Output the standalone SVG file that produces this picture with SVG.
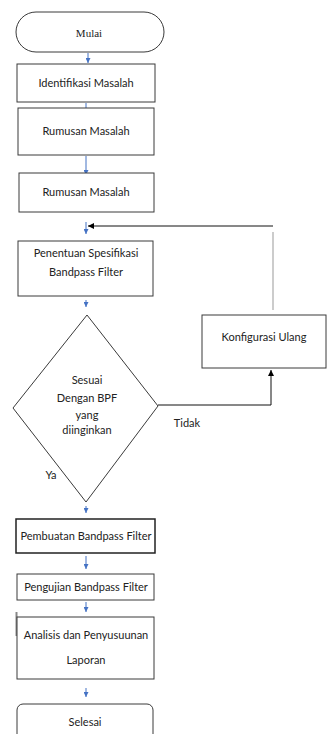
<svg xmlns="http://www.w3.org/2000/svg" width="327" height="734" viewBox="0 0 327 734">
<defs>
<marker id="ab" viewBox="0 0 6 6" refX="6" refY="3" markerWidth="5" markerHeight="5" orient="auto" markerUnits="userSpaceOnUse"><path d="M0,0 L6,3 L0,6 z" fill="#4472C4"/></marker>
<marker id="ak" viewBox="0 0 6 6" refX="6" refY="3" markerWidth="6" markerHeight="6" orient="auto" markerUnits="userSpaceOnUse"><path d="M0,0 L6,3 L0,6 z" fill="#000"/></marker>
<style>
.n{fill:#fff;stroke:#3a3a3a;stroke-width:1}
.t{font-family:Lato,"Open Sans","Liberation Sans",sans-serif;font-size:11px;fill:#222;text-anchor:middle}
.s{font-family:"Liberation Serif",serif;font-size:11px;fill:#222;text-anchor:middle}
.b{stroke:#4472C4;stroke-width:1;fill:none;marker-end:url(#ab)}
.k{stroke:#111;stroke-width:1;fill:none}
</style>
</defs>
<rect width="327" height="734" fill="#fff"/>
<g id="connectors">
<line class="b" x1="88" y1="53" x2="88" y2="63"/>
<line class="b" x1="86" y1="103" x2="86" y2="118"/>
<line class="b" x1="86" y1="156" x2="86" y2="175"/>
<line class="b" x1="86" y1="222" x2="86" y2="234"/>
<line class="b" x1="86" y1="300" x2="86" y2="307"/>
<line class="b" x1="86" y1="506" x2="86" y2="513"/>
<line class="b" x1="86" y1="556" x2="86" y2="569"/>
<line class="b" x1="86" y1="602" x2="86" y2="612"/>
<line class="b" x1="86" y1="688" x2="86" y2="697"/>
<line x1="273" y1="226" x2="88" y2="226" stroke="#111" stroke-width="1" marker-end="url(#ak)"/>
<line x1="273" y1="232" x2="273" y2="310" stroke="#999" stroke-width="1"/>
<polyline points="158,405 271,405 271,370" stroke="#111" stroke-width="1" fill="none" marker-end="url(#ak)"/>
<line x1="16.5" y1="612" x2="16.5" y2="636" stroke="#888" stroke-width="2"/>
</g>
<g id="mulai">
<rect class="n" x="16" y="12" width="148" height="40" rx="20" ry="20"/>
<text class="s" x="89" y="37">Mulai</text>
</g>
<g id="identifikasi">
<rect class="n" x="17" y="64" width="138" height="38"/>
<text class="t" x="86" y="87">Identifikasi Masalah</text>
</g>
<g id="rumusan1">
<rect class="n" x="18" y="108" width="136" height="47"/>
<text class="t" x="86" y="135">Rumusan Masalah</text>
</g>
<g id="rumusan2">
<rect class="n" x="19" y="173" width="135" height="39"/>
<text class="t" x="86" y="196">Rumusan Masalah</text>
</g>
<g id="penentuan">
<rect class="n" x="18" y="241" width="135" height="55"/>
<text class="t" x="86" y="257">Penentuan Spesifikasi</text>
<text class="t" x="86" y="276">Bandpass Filter</text>
</g>
<g id="keputusan">
<polygon class="n" points="87,315 158,406 86,502 13,408"/>
<text class="t" x="87" y="384">Sesuai</text>
<text class="t" x="87" y="402">Dengan BPF</text>
<text class="t" x="87" y="419">yang</text>
<text class="t" x="87" y="434">diinginkan</text>
</g>
<g id="konfigurasi">
<rect class="n" x="202" y="315" width="124" height="53"/>
<text class="t" x="264" y="341">Konfigurasi Ulang</text>
</g>
<g id="labels">
<text class="t" x="187" y="427">Tidak</text>
<text class="t" x="51" y="479">Ya</text>
</g>
<g id="pembuatan">
<rect class="n" x="16" y="519" width="139" height="34" style="stroke:#222;stroke-width:1.5"/>
<text class="t" x="86" y="540">Pembuatan Bandpass Filter</text>
</g>
<g id="pengujian">
<rect class="n" x="17" y="574" width="137" height="26"/>
<text class="t" x="86" y="591">Pengujian Bandpass Filter</text>
</g>
<g id="analisis">
<rect class="n" x="17" y="617" width="137" height="62"/>
<text class="t" x="86" y="639">Analisis dan Penyusuunan</text>
<text class="t" x="86" y="664">Laporan</text>
</g>
<g id="selesai">
<rect class="n" x="17" y="704" width="136" height="40" rx="6" ry="6"/>
<text class="t" x="85" y="726">Selesai</text>
</g>
</svg>
